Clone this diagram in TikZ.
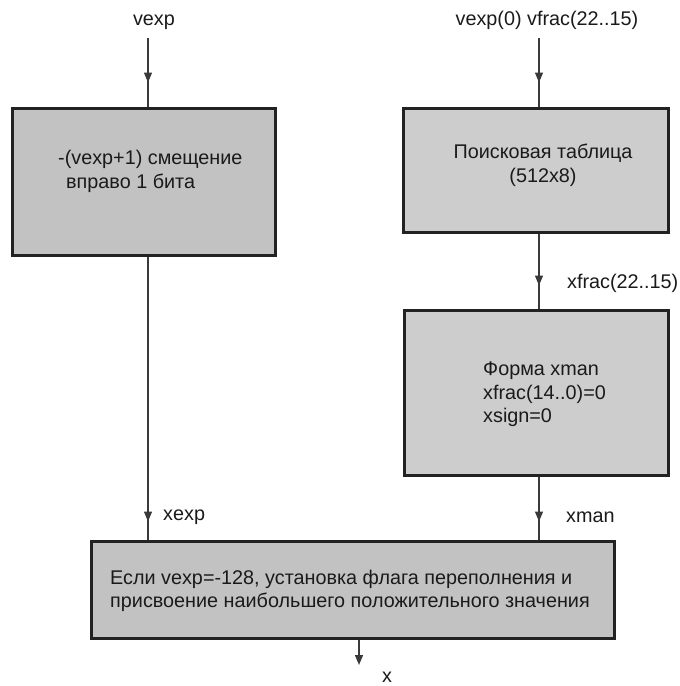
\documentclass[tikz,border=0pt]{standalone}
\usepackage{fontspec}
\setmainfont{Liberation Sans}
\usetikzlibrary{arrows.meta,decorations.markings}
\definecolor{boxline}{HTML}{222222}
\definecolor{wirecol}{HTML}{3A3A3A}
\definecolor{fillA}{HTML}{C2C2C2}
\definecolor{fillB}{HTML}{CDCDCD}
\definecolor{ink}{HTML}{1A1A1A}
\begin{document}
\begin{tikzpicture}[x=1pt,y=-1pt,
  font=\fontsize{19.8}{23.5}\selectfont,
  every node/.style={text=ink},
  block/.style={draw=boxline,line width=3pt,fill=#1,inner sep=0pt,anchor=center},
  txt/.style={inner sep=0pt,align=left},
  wire/.style={draw=wirecol,line width=1.4pt},
  midtip/.style={postaction={decorate,decoration={markings,
      mark=at position #1 with {\arrow{Triangle[width=8pt,length=10pt]}}}}},
  endtip/.style={-{Triangle[width=8pt,length=10pt]}}]
\useasboundingbox (0,0) rectangle (680,686);

% processing blocks
\node[block=fillA,minimum width=263pt,minimum height=147pt] (shift) at (143.5,181.5) {};
\node[block=fillB,minimum width=265pt,minimum height=124pt] (lut) at (535.5,170) {};
\node[block=fillB,minimum width=264pt,minimum height=165pt] (form) at (536,392.5) {};
\node[block=fillA,minimum width=523pt,minimum height=97pt] (final) at (352.5,589.5) {};

% block texts
\node[txt,anchor=west] (shifttxt) at (58,171.5) {-(vexp+1) смещение\\\hspace*{8pt}вправо 1 бита};
\node[txt,align=center,anchor=center] (luttxt) at (543,165.5) {Поисковая таблица\\(512x8)};
\node[txt,anchor=west] (formtxt) at (483,394.5) {Форма xman\\xfrac(14..0)=0\\xsign=0};
\node[txt,anchor=west] (finaltxt) at (110,591) {Если vexp=-128, установка флага переполнения и\\присвоение наибольшего положительного значения};

% signal labels
\node[inner sep=0pt,anchor=base] (lblvexp) at (154,25) {vexp};
\node[inner sep=0pt,anchor=base] (lblvin) at (547,25) {vexp(0) vfrac(22..15)};
\node[inner sep=0pt,anchor=base west] (lblxfrac) at (567,288) {xfrac(22..15)};
\node[inner sep=0pt,anchor=base west] (lblxexp) at (163,520) {xexp};
\node[inner sep=0pt,anchor=base west] (lblxman) at (566,522) {xman};
\node[inner sep=0pt,anchor=base] (lblx) at (387,682) {x};

% connector end points
\coordinate (lin) at (148,38);
\coordinate (rin) at (539,38);
\coordinate (xout) at (359,665);

% connectors
\draw[wire,midtip=-24pt] (lin) -- (lin |- shift.north);
\draw[wire,midtip=-18pt] (lin |- shift.south) -- (lin |- final.north);
\draw[wire,midtip=-24pt] (rin) -- (rin |- lut.north);
\draw[wire,midtip=-23pt] (rin |- lut.south) -- (rin |- form.north);
\draw[wire,midtip=-18pt] (rin |- form.south) -- (rin |- final.north);
\draw[wire,endtip] (xout |- final.south) -- (xout);
\end{tikzpicture}
\end{document}
